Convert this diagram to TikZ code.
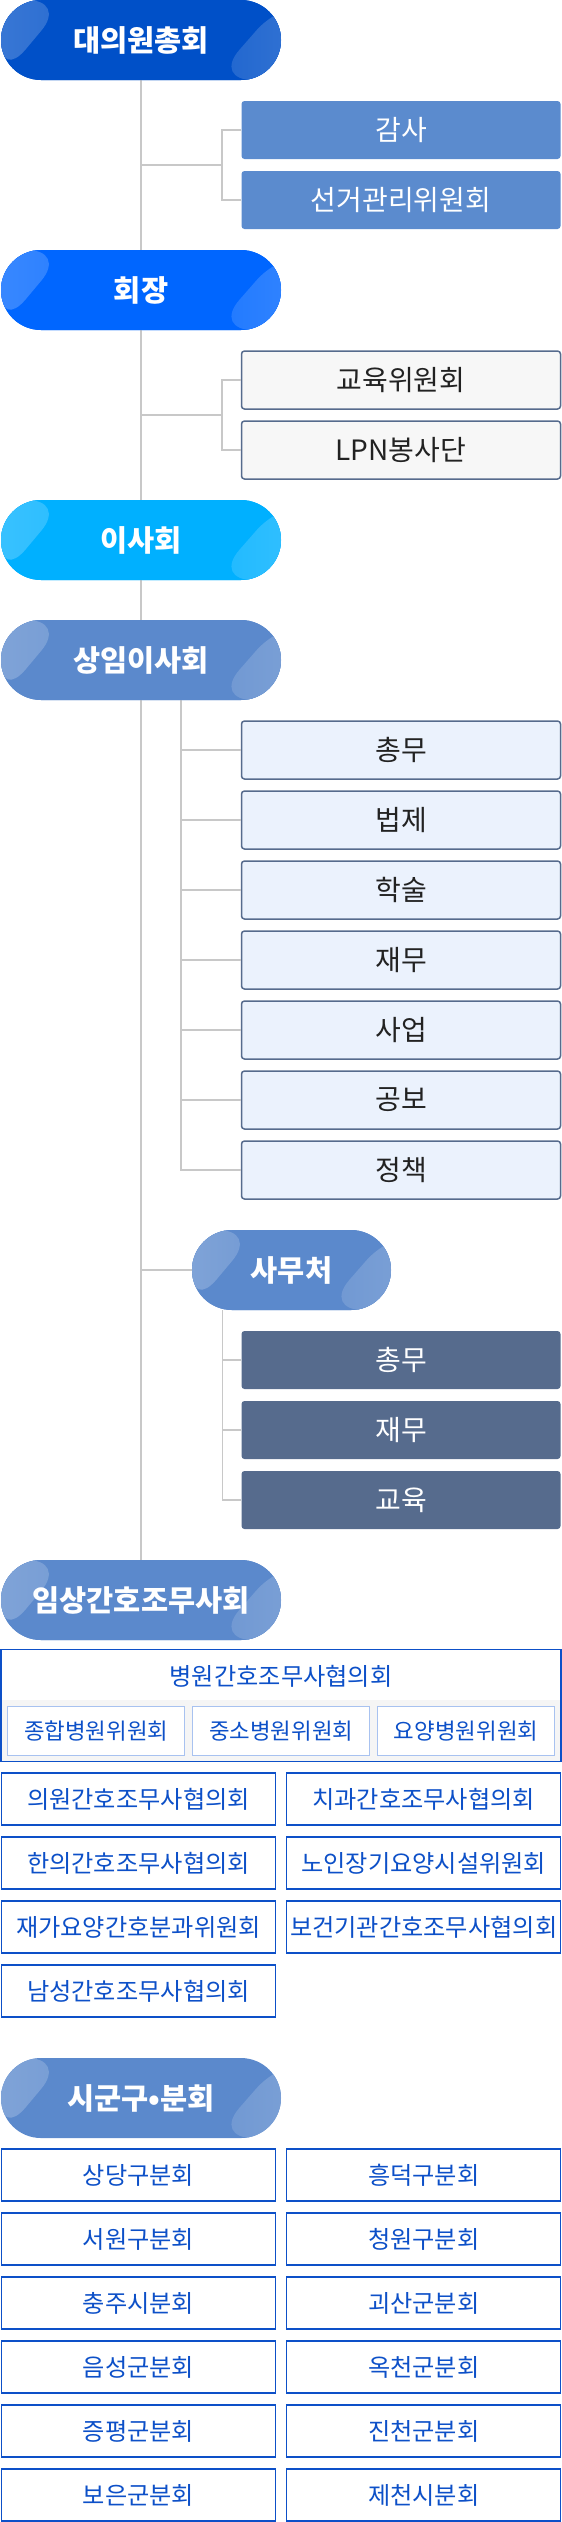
\documentclass[tikz,border=0pt]{standalone}
\usepackage{fontspec}
\setmainfont{Noto Sans CJK KR}
\definecolor{cA}{HTML}{0050C8}
\definecolor{cB}{HTML}{0066FF}
\definecolor{cC}{HTML}{00B0FF}
\definecolor{cD}{HTML}{5B89CC}
\definecolor{midb}{HTML}{5B8BCE}
\definecolor{slate}{HTML}{566B8D}
\definecolor{pale}{HTML}{EBF2FD}
\definecolor{grayf}{HTML}{F7F7F7}
\definecolor{lineg}{HTML}{C8C8C8}
\definecolor{blu}{HTML}{0D50C8}
\definecolor{lblu}{HTML}{A8C2F0}
\definecolor{band}{HTML}{F5F5F5}
\definecolor{ink}{HTML}{222222}
\tikzset{
  conn/.style={draw=lineg, line width=1.4pt},
  pill/.style={minimum width=280pt, minimum height=80pt, rounded corners=40pt,
    fill=#1, text=white, inner sep=0pt, font=\fontsize{29.5}{34}\selectfont\bfseries,
    path picture={
      \shade[left color=#1!78!white, right color=#1]
        (path picture bounding box.north west) -- ([xshift=66pt]path picture bounding box.north west)
        -- ([xshift=-1pt]path picture bounding box.south west) -- cycle;
      \shade[left color=#1!88!white, right color=#1!80!white]
        ([xshift=2pt]path picture bounding box.north east) -- ([xshift=20pt]path picture bounding box.north east)
        -- ([xshift=20pt]path picture bounding box.south east) -- ([xshift=-68pt]path picture bounding box.south east) -- cycle;
    }},
  rbox/.style={minimum width=319pt, minimum height=58pt, rounded corners=3pt, inner sep=0pt,
    font=\fontsize{28}{32}\selectfont},
  boxA/.style={rbox, fill=midb, text=white},
  boxB/.style={rbox, fill=grayf, draw=slate, line width=1.5pt, text=ink},
  boxC/.style={rbox, fill=pale, draw=slate, line width=1.5pt, text=ink},
  boxD/.style={rbox, fill=slate, text=white},
  gbox/.style={minimum width=274pt, minimum height=52pt, inner sep=0pt, draw=blu, line width=1.5pt,
    fill=white, text=blu, font=\fontsize{24.2}{28}\selectfont},
  sbox/.style={minimum width=177pt, minimum height=49pt, inner sep=0pt, draw=lblu, line width=1.2pt,
    fill=white, text=blu, font=\fontsize{22.4}{26}\selectfont},
}
\begin{document}
\begin{tikzpicture}[x=1pt,y=-1pt]
\useasboundingbox (0,0) rectangle (562,2522);
% pills (named, positioned)
\node[pill=cA] (p1) at (141,40) {대의원총회};
\node[pill=cB] (p2) at (141,290) {회장};
\node[pill=cC] (p3) at (141,540) {이사회};
\node[pill=cD] (p4) at (141,660) {상임이사회};
\node[pill=cD, minimum width=199pt] (p5) at (291.5,1270) {사무처};
\node[pill=cD] (p6) at (141,1600) {임상간호조무사회};
\node[pill=cD] (p7) at (141,2098) {시군구•분회};

% boxes
\node[boxA] (a1) at (401,130) {감사};
\node[boxA] (a2) at (401,200) {선거관리위원회};
\node[boxB] (b1) at (401,380) {교육위원회};
\node[boxB] (b2) at (401,450) {LPN봉사단};
\node[boxC] (c1) at (401,750) {총무};
\node[boxC] (c2) at (401,820) {법제};
\node[boxC] (c3) at (401,890) {학술};
\node[boxC] (c4) at (401,960) {재무};
\node[boxC] (c5) at (401,1030) {사업};
\node[boxC] (c6) at (401,1100) {공보};
\node[boxC] (c7) at (401,1170) {정책};
\node[boxD] (d1) at (401,1360) {총무};
\node[boxD] (d2) at (401,1430) {재무};
\node[boxD] (d3) at (401,1500) {교육};

% connectors
\draw[conn] (p1.south) -- (p2.north);
\draw[conn] (p2.south) -- (p3.north);
\draw[conn] (p3.south) -- (p4.north);
\draw[conn] (p4.south) -- (p6.north);
\coordinate (k1) at (222,165);
\draw[conn] (p1.south |- k1) -- (k1);
\draw[conn] (a1.west) -| (k1) |- (a2.west);
\coordinate (k2) at (222,415);
\draw[conn] (p2.south |- k2) -- (k2);
\draw[conn] (b1.west) -| (k2) |- (b2.west);
\coordinate (s0) at (181,700);
\draw[conn] (s0) |- (c7.west);
\foreach \n in {c1,c2,c3,c4,c5,c6} \draw[conn] (\n.west) -- (\n.west -| s0);
\draw[conn] (p5.west) -- (p5.west -| p4.south);
\coordinate (t0) at (222.5,1310);
\draw[conn] (t0) |- (d3.west);
\foreach \n in {d1,d2} \draw[conn] (\n.west) -- (\n.west -| t0);
% redraw pills on top of the lines
\node[pill=cA] at (p1) {대의원총회};
\node[pill=cB] at (p2) {회장};
\node[pill=cC] at (p3) {이사회};
\node[pill=cD] at (p4) {상임이사회};
\node[pill=cD, minimum width=199pt] at (p5) {사무처};
\node[pill=cD] at (p6) {임상간호조무사회};

% clinical section
\fill[band] (1.5,1700) rectangle (560.5,1761.5);
\node[draw=blu, line width=1.5pt, minimum width=560pt, minimum height=112pt, inner sep=0pt] (bb) at (281,1705.5) {};
\node[text=blu, font=\fontsize{24.2}{28}\selectfont] (bt) at (281,1676) {병원간호조무사협의회};
\node[sbox] (e1) at (96.3,1731) {종합병원위원회};
\node[sbox] (e2) at (281.2,1731) {중소병원위원회};
\node[sbox] (e3) at (466.1,1731) {요양병원위원회};
\node[gbox] (f1) at (138.5,1799) {의원간호조무사협의회};
\node[gbox] (f2) at (423.7,1799) {치과간호조무사협의회};
\node[gbox] (f3) at (138.5,1863) {한의간호조무사협의회};
\node[gbox] (f4) at (423.7,1863) {노인장기요양시설위원회};
\node[gbox] (f5) at (138.5,1927) {재가요양간호분과위원회};
\node[gbox] (f6) at (423.7,1927) {보건기관간호조무사협의회};
\node[gbox] (f7) at (138.5,1991) {남성간호조무사협의회};

% branch section
\node[gbox] (g1) at (138.5,2175) {상당구분회};
\node[gbox] (g2) at (423.7,2175) {흥덕구분회};
\node[gbox] (g3) at (138.5,2239) {서원구분회};
\node[gbox] (g4) at (423.7,2239) {청원구분회};
\node[gbox] (g5) at (138.5,2303) {충주시분회};
\node[gbox] (g6) at (423.7,2303) {괴산군분회};
\node[gbox] (g7) at (138.5,2367) {음성군분회};
\node[gbox] (g8) at (423.7,2367) {옥천군분회};
\node[gbox] (g9) at (138.5,2431) {증평군분회};
\node[gbox] (g10) at (423.7,2431) {진천군분회};
\node[gbox] (g11) at (138.5,2495) {보은군분회};
\node[gbox] (g12) at (423.7,2495) {제천시분회};
\end{tikzpicture}
\end{document}
